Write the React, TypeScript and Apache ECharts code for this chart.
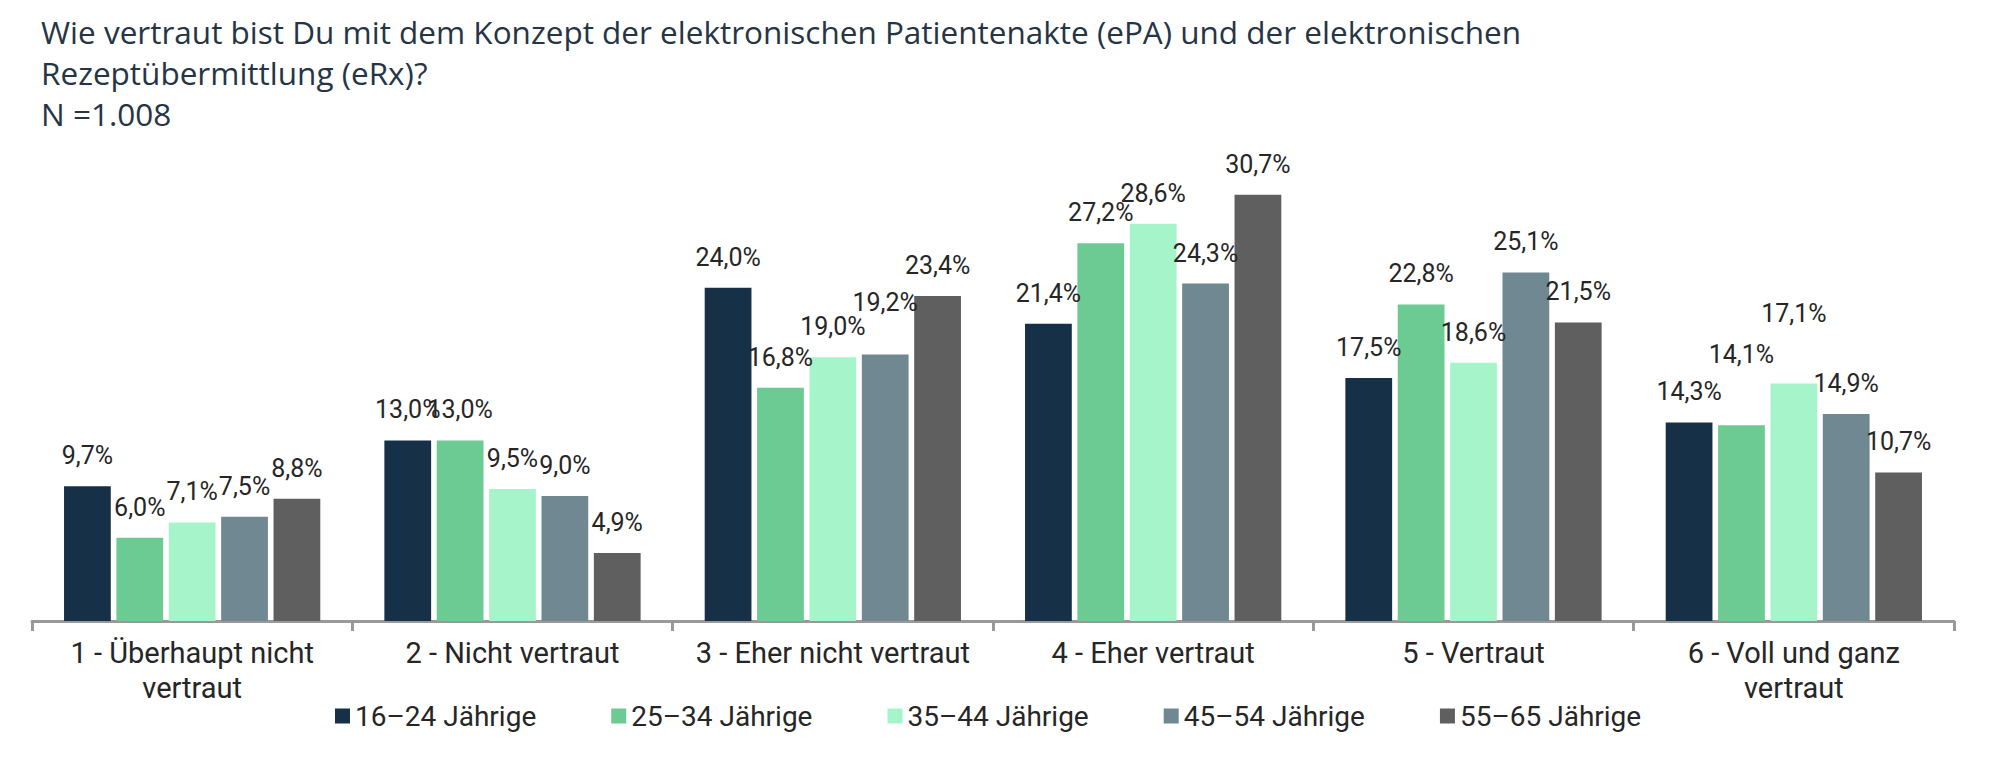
import React, { useEffect, useRef } from "react";
import * as echarts from "echarts";

const titleText =
  "Wie vertraut bist Du mit dem Konzept der elektronischen Patientenakte (ePA) und der elektronischen\nRezeptübermittlung (eRx)?\nN =1.008";

const categories = [
  "1 - Überhaupt nicht\nvertraut",
  "2 - Nicht vertraut",
  "3 - Eher nicht vertraut",
  "4 - Eher vertraut",
  "5 - Vertraut",
  "6 - Voll und ganz\nvertraut",
];

const seriesNames = [
  "16–24 Jährige",
  "25–34 Jährige",
  "35–44 Jährige",
  "45–54 Jährige",
  "55–65 Jährige",
];

const age16to24 = [9.7, 13.0, 24.0, 21.4, 17.5, 14.3];
const age25to34 = [6.0, 13.0, 16.8, 27.2, 22.8, 14.1];
const age35to44 = [7.1, 9.5, 19.0, 28.6, 18.6, 17.1];
const age45to54 = [7.5, 9.0, 19.2, 24.3, 25.1, 14.9];
const age55to65 = [8.8, 4.9, 23.4, 30.7, 21.5, 10.7];

const seriesValues = [age16to24, age25to34, age35to44, age45to54, age55to65];

const colors = ["#163047", "#6CCB93", "#A6F5CA", "#6F8892", "#5F5F5F"];

// labels that sit higher above their bar in the reference: [series, category, extra px]
const raisedLabels: [number, number, number][] = [
  [3, 2, 21],
  [2, 5, 40],
  [1, 5, 40],
];

const FONT = "Roboto, 'Noto Sans', sans-serif";
const BASE_DIST = 18;

export default function App() {
  const ref = useRef<HTMLDivElement>(null);

  useEffect(() => {
    if (!ref.current) return;
    const chart = echarts.init(ref.current, undefined, { renderer: "svg" });

    const series = seriesValues.map((vals, si) => ({
      name: seriesNames[si],
      type: "bar",
      barGap: "12%",
      barCategoryGap: "20%",
      itemStyle: { color: colors[si] },
      label: {
        show: true,
        position: "top",
        distance: BASE_DIST,
        fontFamily: FONT,
        fontSize: 25,
        color: "#262626",
        formatter: (p: any) => p.value.toFixed(1).replace(".", ",") + "%",
      },
      data: vals.map((v, ci) => {
        const r = raisedLabels.find((x) => x[0] === si && x[1] === ci);
        return r ? { value: v, label: { distance: BASE_DIST + r[2] } } : v;
      }),
    }));

    chart.setOption({
      animation: false,
      backgroundColor: "#ffffff",
      title: {
        text: titleText,
        left: 36,
        top: 6,
        textStyle: {
          fontFamily: "'Open Sans', Roboto, sans-serif",
          fontSize: 31.5,
          fontWeight: "normal",
          color: "#263545",
          lineHeight: 41,
        },
      },
      legend: {
        data: seriesNames,
        left: 335,
        top: 702,
        padding: 0,
        icon: "rect",
        itemWidth: 15,
        itemHeight: 15,
        itemGap: 75,
        textStyle: {
          fontFamily: FONT,
          fontSize: 28,
          color: "#262626",
        },
      },
      grid: { left: 32, right: 46, top: 135, bottom: 160, containLabel: false },
      xAxis: {
        type: "category",
        data: categories,
        axisLine: { show: true, lineStyle: { color: "#999999", width: 3 } },
        axisTick: { show: true, length: 10, lineStyle: { color: "#999999", width: 3 } },
        axisLabel: {
          interval: 0,
          margin: 14,
          fontFamily: FONT,
          fontSize: 29,
          lineHeight: 35,
          color: "#262626",
        },
      },
      yAxis: {
        type: "value",
        min: 0,
        max: 35,
        show: false,
        splitLine: { show: false },
      },
      series,
    });

    return () => chart.dispose();
  }, []);

  return (
    <div
      ref={ref}
      style={{ position: "absolute", left: 0, top: 0, width: 2000, height: 781 }}
    />
  );
}
